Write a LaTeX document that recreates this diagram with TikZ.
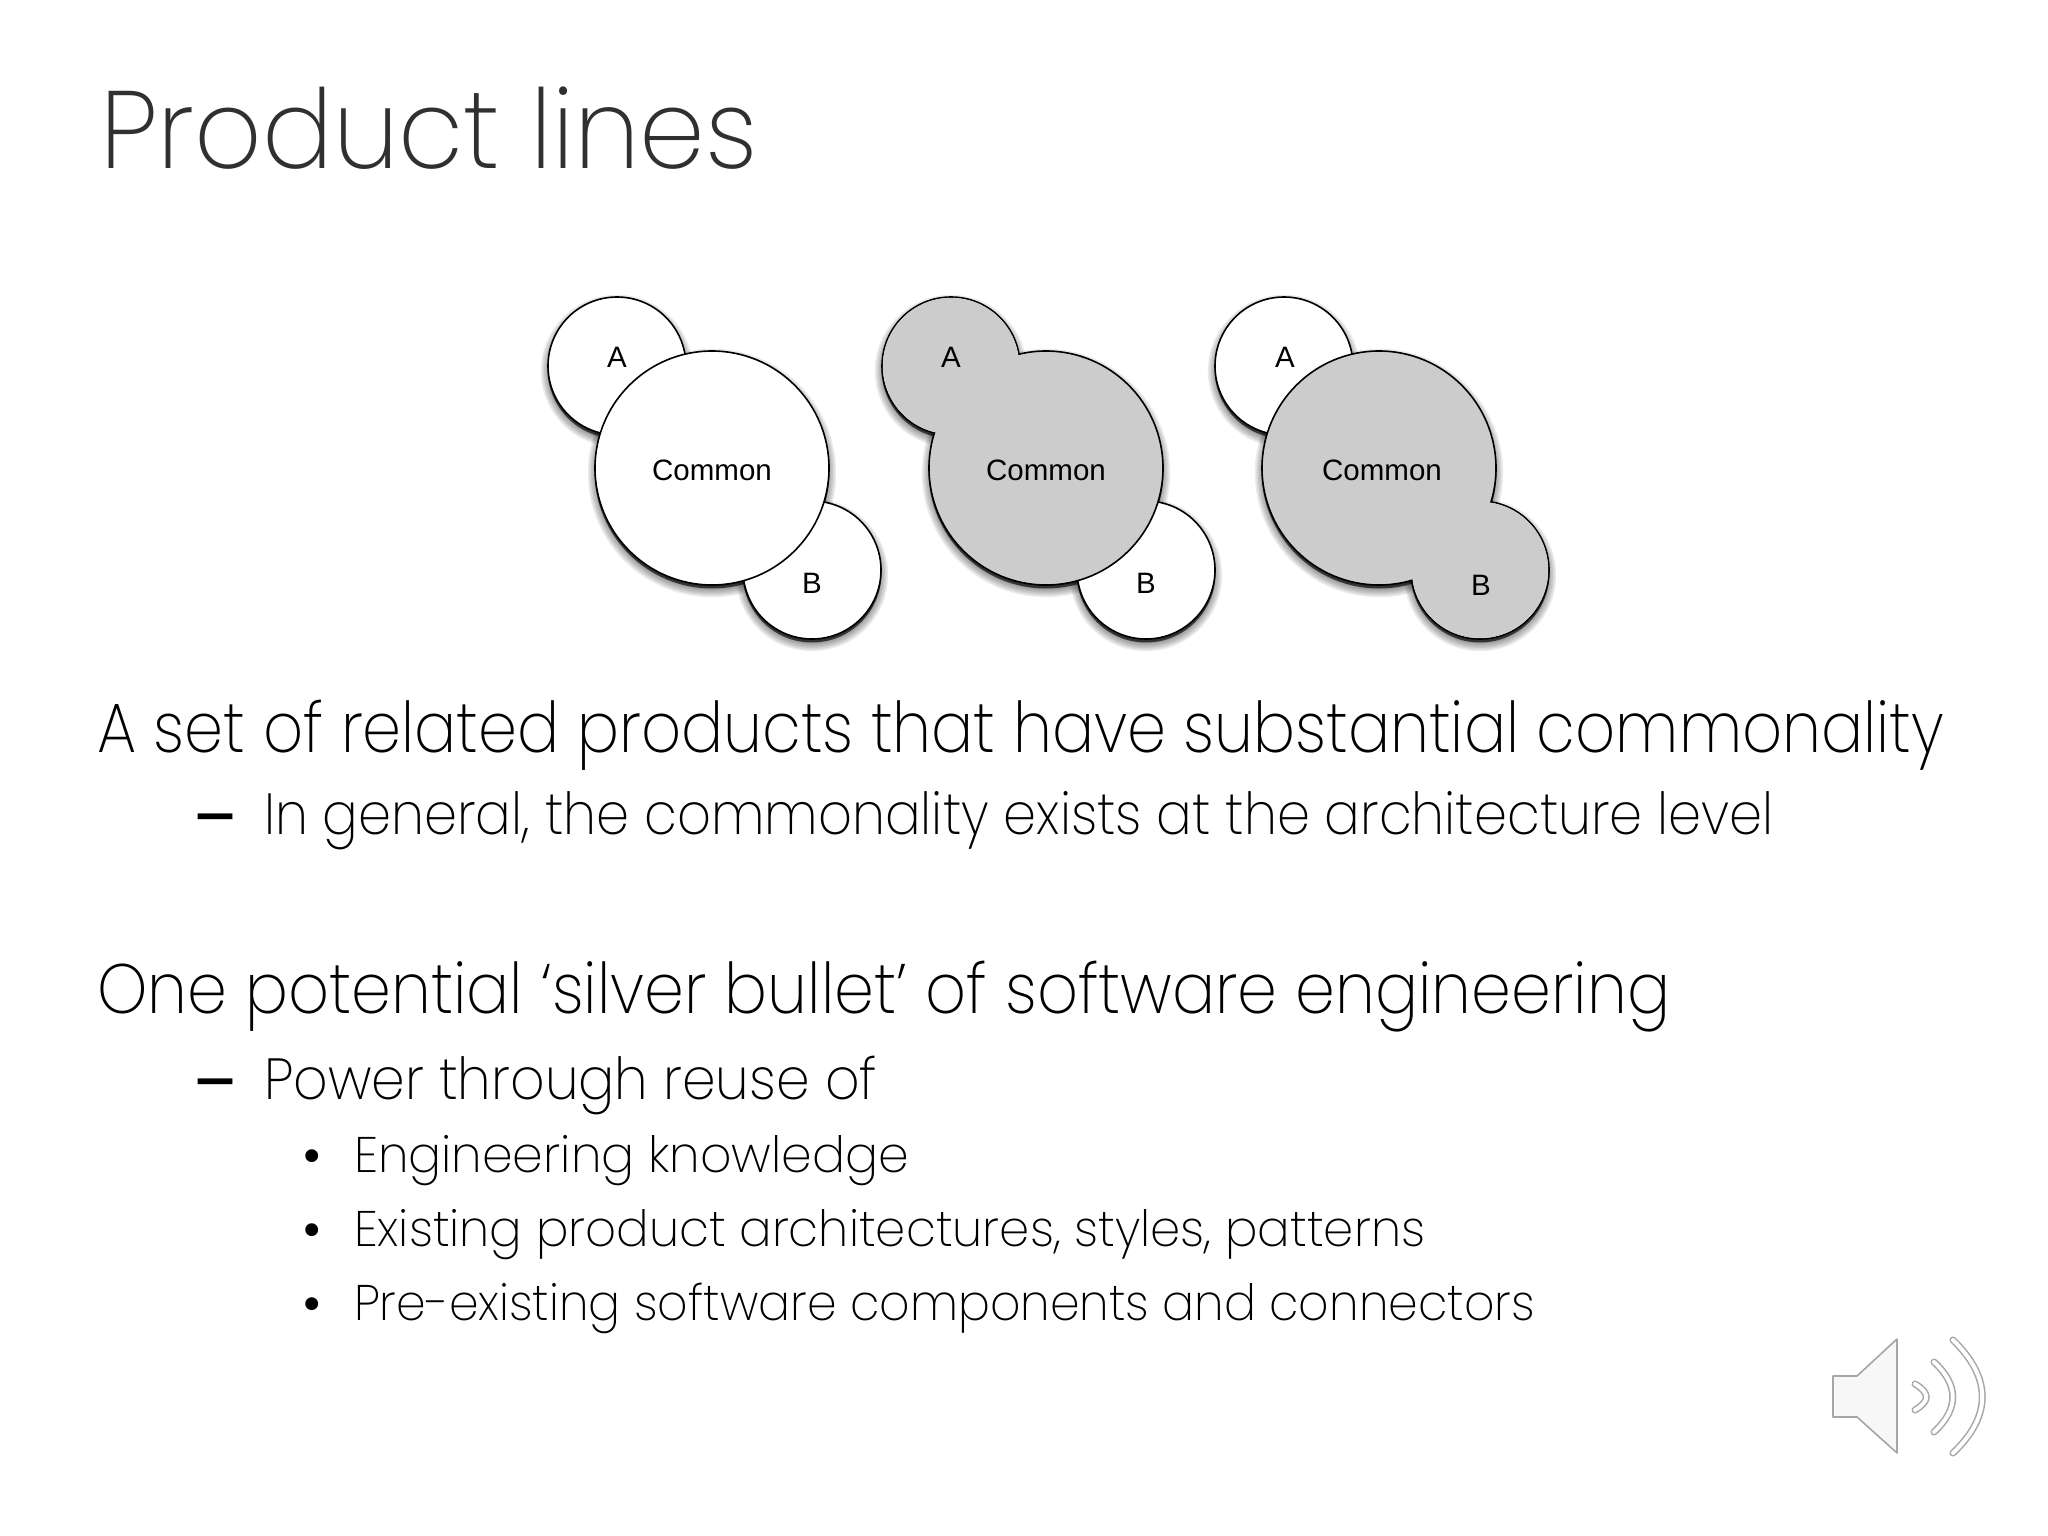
\documentclass[tikz,border=0pt]{standalone}
\usepackage{fontspec}
\usepackage{graphicx}
\setmainfont{Poppins}[UprightFont=* ExtraLight]
\newfontfamily\labelfont{Liberation Sans}
\newfontfamily\dashfont{Poppins}[UprightFont=* Medium]
\newfontfamily\bulletfont{Poppins}[UprightFont=* Regular]
\definecolor{titlecol}{HTML}{303030}
\definecolor{bodycol}{HTML}{000000}
\definecolor{fillgray}{HTML}{CCCCCC}
\definecolor{spk}{HTML}{A6A6A6}
\newcommand{\fitw}[2]{\resizebox{#1pt}{\height}{#2}}
\newcommand{\fs}[1]{\fontsize{#1pt}{#1pt}\selectfont}
\newcommand{\softshadow}[2]{% centre, radius
  \foreach \d in {14,12,...,0}{
    \fill[black,fill opacity=0.08] ($(#1)+(0,5)$) circle ({#2+\d*0.8-4});
  }
  \fill[black,fill opacity=0.65] ($(#1)+(0,3)$) circle ({#2+0.5});
}
\usetikzlibrary{calc}
\tikzset{
  x=1pt,y=-1pt,
  txt/.style={anchor=base west,inner sep=0,outer sep=0,text=bodycol},
  bub/.style={circle,draw=black,line width=1.6pt,inner sep=0,outer sep=0,minimum size=#1},
  bubfill/.style={circle,inner sep=0,outer sep=0,minimum size=#1},
  lab/.style={anchor=base,inner sep=0,text=black,font=\labelfont\fontsize{29.5pt}{29.5pt}\selectfont},
  wave/.style={draw=spk,line width=7pt,line cap=round},
  wavein/.style={draw=white,line width=4pt,line cap=round}
}
\begin{document}
\begin{tikzpicture}
\useasboundingbox (0,0) rectangle (2048,1536);
\fill[white] (0,0) rectangle (2048,1536);

% title
\node[txt,text=titlecol] (title) at (100,168) {\fitw{658}{\fs{110}Product lines}};

% diagram centres
\coordinate (a1) at (617,366);  \coordinate (c1) at (712,468);  \coordinate (b1) at (812,570);
\coordinate (a2) at (951,366);  \coordinate (c2) at (1046,468); \coordinate (b2) at (1146,570);
\coordinate (a3) at (1284,366); \coordinate (c3) at (1379,468); \coordinate (b3) at (1480,570);

\foreach \p in {a1,b1,a2,b2,a3,b3}{\softshadow{\p}{69}}
\foreach \p in {c1,c2,c3}{\softshadow{\p}{117}}

% first
\node[bub=138pt,fill=white] (A1) at (a1) {};
\node[bub=138pt,fill=white] (B1) at (b1) {};
\node[bub=234pt,fill=white] (C1) at (c1) {};
% second
\node[bub=138pt,fill=white] (B2) at (b2) {};
\node[bub=138pt,fill=fillgray] (A2) at (a2) {};
\node[bub=234pt,fill=fillgray] (C2) at (c2) {};
\node[bubfill=136.4pt,fill=fillgray] (A2f) at (a2) {};
% third
\node[bub=138pt,fill=white] (A3) at (a3) {};
\node[bub=138pt,fill=fillgray] (B3) at (b3) {};
\node[bub=234pt,fill=fillgray] (C3) at (c3) {};
\node[bubfill=136.4pt,fill=fillgray] (B3f) at (b3) {};

% labels
\node[lab] (la1) at (617,367) {A};
\node[lab] (lc1) at (712,480) {Common};
\node[lab] (lb1) at (812,593) {B};
\node[lab] (la2) at (951,367) {A};
\node[lab] (lc2) at (1046,480) {Common};
\node[lab] (lb2) at (1146,593) {B};
\node[lab] (la3) at (1285,367) {A};
\node[lab] (lc3) at (1382,480) {Common};
\node[lab] (lb3) at (1481,595) {B};

% body text
\node[txt] (l1) at (97,752) {\fitw{1847}{\fs{70}A set of related products that have substantial commonality}};
\node[txt] (d1) at (192,838) {\fitw{46}{\fs{60}\dashfont–}};
\node[txt] (l2) at (264,834) {\fitw{1510}{\fs{58}In general, the commonality exists at the architecture level}};
\node[txt] (l3) at (97,1013) {\fitw{1573}{\fs{70}One potential ‘silver bullet’ of software engineering}};
\node[txt] (d2) at (192,1103) {\fitw{46}{\fs{60}\dashfont–}};
\node[txt] (l4) at (264,1099) {\fitw{613}{\fs{58}Power through reuse of}};
\node[txt] (m1) at (301,1173) {\fs{52}\bulletfont•};
\node[txt] (l5) at (354,1172) {\fitw{555}{\fs{50}Engineering knowledge}};
\node[txt] (m2) at (301,1247) {\fs{52}\bulletfont•};
\node[txt] (l6) at (354,1246) {\fitw{1071}{\fs{50}Existing product architectures, styles, patterns}};
\node[txt] (m3) at (301,1321) {\fs{52}\bulletfont•};
\node[txt] (l7) at (354,1320) {\fitw{1181}{\fs{50}Pre-existing software components and connectors}};

% speaker
\draw[spk,line width=1.6pt,line join=round,fill=black!3]
  (1833,1376) -- (1857,1376) -- (1897,1339) -- (1897,1453) -- (1857,1417) -- (1833,1417) -- cycle;
\foreach \xa/\ya/\yb/\xc/\yc/\yd in {1915/1384/1410/1930/1393/1401, 1934/1362/1432/1959/1385/1409, 1953/1340/1453/1992/1378/1416}{
  \draw[wave] (\xa,\ya) .. controls (\xc,\yc) and (\xc,\yd) .. (\xa,\yb);
  \draw[wavein] (\xa,\ya) .. controls (\xc,\yc) and (\xc,\yd) .. (\xa,\yb);
}
\end{tikzpicture}
\end{document}
